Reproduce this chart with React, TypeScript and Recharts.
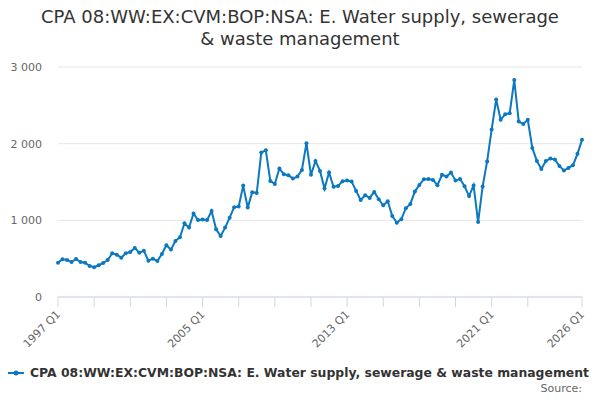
import React from "react";
import { CartesianGrid, Line, LineChart, XAxis, YAxis } from "recharts";

const startYear = 1997;
const endYear = 2026;

// quarterly values, 1997 Q1 .. 2026 Q1
const values = [
  448, 492, 483, 457, 496, 457, 448, 405, 388, 414,
  444, 483, 570, 552, 513, 570, 587, 640, 578, 604,
  474, 500, 470, 561, 675, 618, 731, 779, 962, 905,
  1090, 1003, 1010, 1003, 1122, 884, 796, 905, 1035, 1171,
  1180, 1453, 1166, 1367, 1358, 1884, 1915, 1514, 1475, 1675,
  1602, 1589, 1545, 1571, 1658, 2006, 1593, 1775, 1645, 1414,
  1625, 1438, 1449, 1510, 1518, 1505, 1384, 1266, 1327, 1292,
  1371, 1275, 1197, 1249, 1057, 970, 1014, 1158, 1214, 1375,
  1462, 1536, 1540, 1527, 1458, 1593, 1571, 1623, 1518, 1540,
  1445, 1316, 1455, 977, 1440, 1768, 2185, 2576, 2311, 2385,
  2398, 2829, 2289, 2258, 2311, 1945, 1775, 1671, 1775, 1805,
  1792, 1710, 1649, 1684, 1719, 1867, 2050,
];

const quarters: string[] = [];
for (let y = startYear; y <= endYear; y++) {
  for (let q = 1; q <= 4; q++) {
    if (y === endYear && q > 1) break;
    quarters.push(`${y} Q${q}`);
  }
}

const tickMarks = [
  "1997 Q1", "1999 Q1", "2001 Q1", "2003 Q1", "2005 Q1", "2007 Q1",
  "2009 Q1", "2011 Q1", "2013 Q1", "2015 Q1", "2017 Q1", "2019 Q1",
  "2021 Q1", "2023 Q1", "2026 Q1",
];
const tickLabels = ["1997 Q1", "2005 Q1", "2013 Q1", "2021 Q1", "2026 Q1"];
const yTicks = [0, 1000, 2000, 3000];

const data = quarters.map((q, i) => ({ q, value: values[i] }));

const seriesName =
  "CPA 08:WW:EX:CVM:BOP:NSA: E. Water supply, sewerage & waste management";
const color = "#0b78c0";
const font = "'DejaVu Sans', sans-serif";

const XTick = (props: any) => {
  const { x, y, payload } = props;
  if (!tickLabels.includes(payload.value)) return null;
  const tx = x + 3;
  const ty = y + 8;
  return (
    <text
      x={tx}
      y={ty}
      textAnchor="end"
      fontSize={11}
      fill="#666666"
      fontFamily={font}
      transform={`rotate(-45, ${tx}, ${ty})`}
    >
      {payload.value}
    </text>
  );
};

const fmt = (v: number) =>
  v >= 1000 ? `${Math.floor(v / 1000)} ${String(v % 1000).padStart(3, "0")}` : `${v}`;

const App = () => {
  return (
    <div
      style={{
        position: "absolute",
        left: 0,
        top: 0,
        width: 600,
        height: 400,
        background: "#fff",
        fontFamily: font,
      }}
    >
      <div
        style={{
          position: "absolute",
          top: 6,
          left: 0,
          width: 600,
          textAlign: "center",
          fontSize: 18,
          lineHeight: "21.5px",
          color: "#333333",
        }}
      >
        CPA 08:WW:EX:CVM:BOP:NSA: E. Water supply, sewerage
        <br />& waste management
      </div>
      <LineChart
        width={600}
        height={400}
        data={data}
        margin={{ top: 67, right: 18, bottom: 53, left: 0 }}
      >
        <CartesianGrid vertical={false} stroke="#e6e6e6" />
        <XAxis
          dataKey="q"
          ticks={tickMarks}
          interval={0}
          tick={<XTick />}
          tickSize={10}
          tickMargin={0}
          stroke="#ccd6eb"
          tickLine={{ stroke: "#ccd6eb" }}
          axisLine={{ stroke: "#ccd6eb" }}
          height={50}
        />
        <YAxis
          domain={[0, 3000]}
          ticks={yTicks}
          width={58}
          axisLine={false}
          tickLine={false}
          tickSize={6}
          tickMargin={10}
          tickFormatter={fmt}
          tick={{ fontSize: 11, fill: "#666666", fontFamily: font }}
        />
        <Line
          dataKey="value"
          type="linear"
          stroke={color}
          strokeWidth={2}
          dot={{ r: 2, fill: color, stroke: color, strokeWidth: 0 }}
          isAnimationActive={false}
        />
      </LineChart>
      <div
        style={{
          position: "absolute",
          top: 365,
          left: 8,
          display: "flex",
          alignItems: "center",
          fontSize: 12.4,
          fontWeight: "bold",
          color: "#333333",
          whiteSpace: "nowrap",
        }}
      >
        <svg width={18} height={10} style={{ marginRight: 4 }}>
          <line x1={0} y1={5} x2={16} y2={5} stroke={color} strokeWidth={2} />
          <circle cx={8} cy={5} r={2.5} fill={color} />
        </svg>
        {seriesName}
      </div>
      <div
        style={{
          position: "absolute",
          top: 382,
          right: 18,
          fontSize: 11,
          color: "#666666",
        }}
      >
        Source:
      </div>
    </div>
  );
};

export default App;
